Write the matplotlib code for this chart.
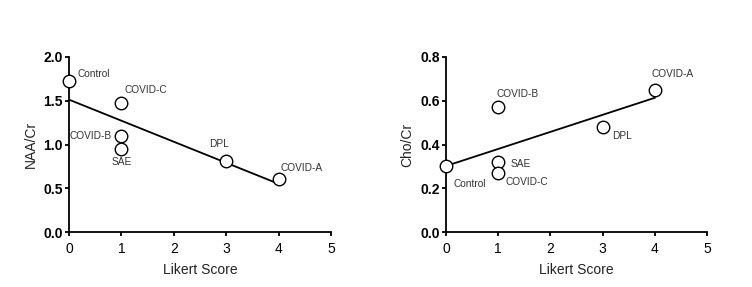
import matplotlib
matplotlib.use("Agg")
import matplotlib.pyplot as plt
import numpy as np

plt.rcParams['font.family'] = ['Liberation Sans', 'DejaVu Sans']

groups_naa = ["Control", "COVID-C", "COVID-B", "SAE", "DPL", "COVID-A"]
likert_naa = [0, 1, 1, 1, 3, 4]
naa_cr = [1.73, 1.47, 1.10, 0.95, 0.81, 0.61]
offs_naa = [(8, 7, 'left'), (3, 13, 'left'), (-10, 0, 'right'), (0, -13, 'center'), (-7, 17, 'center'), (2, 11, 'left')]

groups_cho = ["Control", "COVID-B", "SAE", "COVID-C", "DPL", "COVID-A"]
likert_cho = [0, 1, 1, 1, 3, 4]
cho_cr = [0.30, 0.57, 0.32, 0.27, 0.48, 0.65]
offs_cho = [(7, -18, 'left'), (-2, 13, 'left'), (12, -2, 'left'), (7, -9, 'left'), (10, -9, 'left'), (-3, 16, 'left')]

xticks = [0, 1, 2, 3, 4, 5]
yticks_naa = [0.0, 0.5, 1.0, 1.5, 2.0]
yticks_cho = [0.0, 0.2, 0.4, 0.6, 0.8]

fig = plt.figure(figsize=(7.52, 2.87), dpi=100)
ax1 = fig.add_axes([69/752, 55/287, 262/752, 175/287])
ax2 = fig.add_axes([446/752, 55/287, 261/752, 175/287])

def draw(ax, x, y, names, offs, yticks, ylabel, ylabfmt):
    x = np.array(x, float); y = np.array(y, float)
    m, b = np.polyfit(x, y, 1)
    xl = np.array([0, x.max()])
    ax.plot(xl, m * xl + b, color='black', lw=1.3, zorder=2)
    ax.plot(x, y, 'o', ms=9, mfc='white', mec='black', mew=1.0, zorder=3, clip_on=False)
    for xi, yi, n, (dx, dy, ha) in zip(x, y, names, offs):
        ax.annotate(n, (xi, yi), xytext=(dx, dy), textcoords='offset pixels',
                    ha=ha, va='center', fontsize=7.3, color='#333333')
    ax.set_xlim(0, 5)
    ax.set_ylim(yticks[0], yticks[-1])
    ax.set_xticks(xticks)
    ax.set_yticks(yticks)
    ax.set_yticklabels([ylabfmt % v for v in yticks], fontweight='bold')
    for s in ['top', 'right']:
        ax.spines[s].set_visible(False)
    for s in ['left', 'bottom']:
        ax.spines[s].set_linewidth(1.3)
    ax.tick_params(direction='out', length=3, width=1.3, labelsize=10, pad=1.5)
    ax.tick_params(axis='x', pad=4)
    ax.set_xlabel('Likert Score', fontsize=10, color='#222222', labelpad=5)
    ax.set_ylabel(ylabel, fontsize=10, color='#222222', labelpad=4)

draw(ax1, likert_naa, naa_cr, groups_naa, offs_naa, yticks_naa, 'NAA/Cr', '%.1f')
draw(ax2, likert_cho, cho_cr, groups_cho, offs_cho, yticks_cho, 'Cho/Cr', '%.1f')

fig.savefig('out.png', dpi=100)
